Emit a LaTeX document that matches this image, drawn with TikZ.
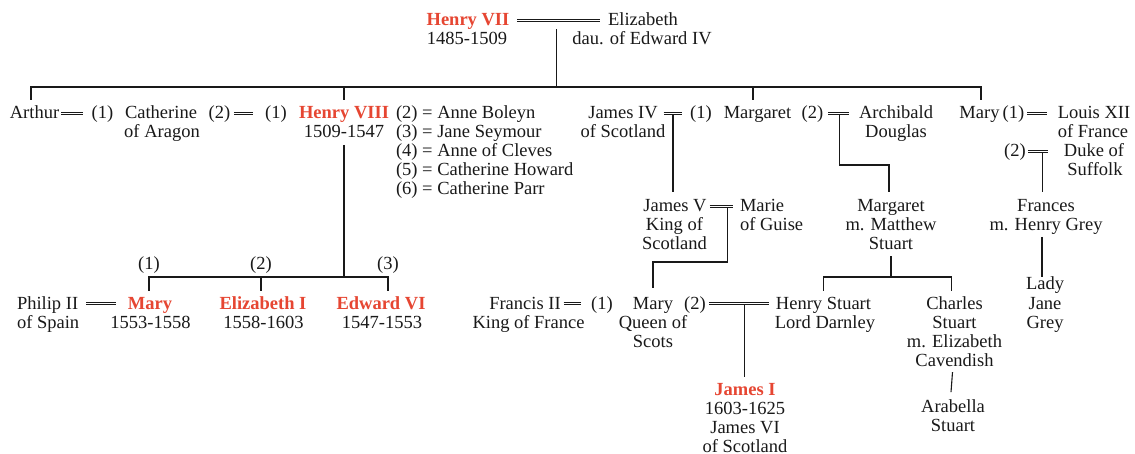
\documentclass[tikz,border=0pt]{standalone}
\usepackage{fontspec}
\setmainfont{Liberation Serif}
\definecolor{royalred}{RGB}{230,70,50}
\definecolor{ink}{RGB}{25,25,25}
\newcommand\kingname[1]{{\bfseries\color{royalred}#1}}
\begin{document}
\begin{tikzpicture}[x=1pt,y=-1pt,
  every node/.style={inner sep=0pt, outer sep=0pt, anchor=base, align=center,
    text=ink, font=\fontsize{18.5}{19}\selectfont},
  lft/.style={anchor=base west, align=left},
  ln/.style={draw=ink, line width=1.1pt},
  marr/.style={draw=ink, double=white, line width=1.1pt, double distance=1.5pt},
]
\fill[white] (0,0) rectangle (1135,454);
\useasboundingbox (0,0) rectangle (1135,454);

% helper levels
\coordinate (bar) at (0,87);
\coordinate (drop) at (0,100);
\coordinate (y165) at (0,165);
\coordinate (r3top) at (0,192);
\coordinate (y262) at (0,262);
\coordinate (kbar) at (0,277);
\coordinate (y288) at (0,288);
\coordinate (kdrop) at (0,291);
\coordinate (y377) at (0,377);

% (multi-line nodes are placed at the baseline of their LAST line)

% generation 1
\node (h7) at (468,26) {\kingname{Henry VII}};
\node (h7d) at (467,45) {1485-1509};
\node (eliz) at (643,26) {Elizabeth};
\node (elizd) at (642,45) {dau. of Edward IV};
\draw[marr] ([xshift=8pt,yshift=5.5pt]h7.base east) -- coordinate[pos=.475] (h7m) ([xshift=-8pt,yshift=5.5pt]eliz.base west);
\draw[ln] ([yshift=-9pt]h7m) -- (h7m |- bar);

% generation 2
\node (arthur) at (34.5,119) {Arthur};
\node (a1) at (102.5,119) {(1)};
\node (cath) at (161,119) {Catherine};
\node (cathd) at (162,138) {of Aragon};
\node (a2) at (219.5,119) {(2)};
\node (a3) at (276,119) {(1)};
\node (h8) at (344,119) {\kingname{Henry VIII}};
\node (h8d) at (344,138) {1509-1547};
\node[lft] (wives) at (396,195) {(2) = Anne Boleyn\\(3) = Jane Seymour\\(4) = Anne of Cleves\\(5) = Catherine Howard\\(6) = Catherine Parr};

\node (j4) at (623,119) {James IV};
\node (j4d) at (623,138) {of Scotland};
\node (b1) at (701,119) {(1)};
\node (marg) at (757.5,119) {Margaret};
\node (b2) at (812.5,119) {(2)};
\node (arch) at (896,119) {Archibald};
\node (archd) at (896,138) {Douglas};

\node (mt) at (979.5,119) {Mary};
\node (e1) at (1013.5,119) {(1)};
\node (louis) at (1094,119) {Louis XII};
\node (louisd) at (1093,138) {of France};
\node (e2) at (1015,157) {(2)};
\node (duke) at (1094,157) {Duke of};
\node (duked) at (1095,176) {Suffolk};

% children bar of Henry VII
\draw[ln] ([xshift=-3.5pt]arthur.base |- drop) |- ([xshift=1.5pt]mt.base |- bar) -- ([xshift=1.5pt]mt.base |- drop);
\draw[ln] (h8.base |- bar) -- (h8.base |- drop);
\draw[ln] ([xshift=-4.5pt]marg.base |- bar) -- ([xshift=-4.5pt]marg.base |- drop);

% marriages generation 2
\draw[marr] ([xshift=2pt,yshift=5.5pt]arthur.base east) -- ([xshift=-9pt,yshift=5.5pt]a1.base west);
\draw[marr] ([xshift=4pt,yshift=5.5pt]a2.base east) -- ([xshift=-12pt,yshift=5.5pt]a3.base west);
\draw[marr] ([xshift=6pt,yshift=5.5pt]j4.base east) -- coordinate (j4m) ([xshift=-8pt,yshift=5.5pt]b1.base west);
\draw[marr] ([xshift=5pt,yshift=5.5pt]b2.base east) -- coordinate[pos=.55] (bm) ([xshift=-10pt,yshift=5.5pt]arch.base west);
\draw[marr] ([xshift=3pt,yshift=5.5pt]e1.base east) -- ([xshift=-11pt,yshift=5.5pt]louis.base west);
\draw[marr] ([xshift=2pt,yshift=5.5pt]e2.base east) -- coordinate[pos=.75] (em) ([xshift=-16pt,yshift=5.5pt]duke.base west);

% Henry VIII's children
\node (c1) at (149,270) {(1)};
\node (c2) at (261,270) {(2)};
\node (c3) at (388,270) {(3)};
\draw[ln] ([yshift=-7pt]h8d.base) -- (h8d.base |- kbar);
\draw[ln] (c1.base |- kdrop) |- (c3.base |- kbar) -- (c3.base |- kdrop);
\draw[ln] (c2.base |- kbar) -- (c2.base |- kdrop);

\node[lft] (philip) at (17,309) {Philip II};
\node[lft] (philipd) at (17,328) {of Spain};
\node (mary1) at (150,309) {\kingname{Mary}};
\node (mary1d) at (150.5,328) {1553-1558};
\node (eliz1) at (263,309) {\kingname{Elizabeth I}};
\node (eliz1d) at (263.5,328) {1558-1603};
\node (edw6) at (381,309) {\kingname{Edward VI}};
\node (edw6d) at (382,328) {1547-1553};
\draw[marr] ([xshift=8pt,yshift=5.5pt]philip.base east) -- ([xshift=-12pt,yshift=5.5pt]mary1.base west);

% Scottish line
\node (j5) at (675,212) {James V};
\node (j5d) at (674.5,250) {King of\\Scotland};
\node[lft] (marie) at (740,212) {Marie};
\node[lft] (maried) at (740,231) {of Guise};
\draw[ln] ([yshift=-1.9pt]j4m) -- (j4m |- r3top);
\draw[marr] ([xshift=3pt,yshift=5.5pt]j5.base east) -- coordinate[pos=.75] (j5m) ([xshift=-7pt,yshift=5.5pt]marie.base west);

\node (marg2) at (891,212) {Margaret};
\node (marg2d) at (891,250) {m. Matthew\\Stuart};
\draw[ln] ([yshift=-1.9pt]bm) |- ([xshift=-2pt]marg2.base |- y165) -- ([xshift=-2pt]marg2.base |- r3top);

\node (fr) at (1046,212) {Frances};
\node (frd) at (1046,231) {m. Henry Grey};
\draw[ln] ([yshift=-1.9pt]em) -- (em |- r3top);
\node (lady) at (1045,290) {Lady};
\node (ladyd) at (1045,328) {Jane\\Grey};
\draw[ln] ([xshift=-4pt,yshift=-6pt]frd.base) -- ([xshift=-4pt]frd.base |- kbar);

\node (francis) at (525,309) {Francis II};
\node (francisd) at (528.5,328) {King of France};
\node (d1) at (602,309) {(1)};
\node (mqs) at (653,309) {Mary};
\node (mqsd) at (653,347) {Queen of\\Scots};
\node (d2) at (695,309) {(2)};
\node (hst) at (823.5,309) {Henry Stuart};
\node (hstd) at (825,328) {Lord Darnley};
\draw[ln] ([yshift=-1.9pt]j5m) |- (mqs.base |- y262) -- (mqs.base |- y288);
\draw[marr] ([xshift=3pt,yshift=5.5pt]francis.base east) -- ([xshift=-10pt,yshift=5.5pt]d1.base west);
\draw[marr] ([xshift=3pt,yshift=5.5pt]d2.base east) -- coordinate[pos=.6] (dm) ([xshift=-7pt,yshift=5.5pt]hst.base west);

\node (charles) at (954.5,309) {Charles};
\node (charlesd) at (954.5,366) {Stuart\\m. Elizabeth\\Cavendish};
\draw[ln] ([yshift=-6pt]marg2d.south) -- (marg2d.south |- kbar);
\draw[ln] (hst.base |- kdrop) |- ([xshift=-3pt]charles.base |- kbar) -- ([xshift=-3pt]charles.base |- kdrop);

\node (arab) at (953,412) {Arabella};
\node (arabd) at (953,431) {Stuart};
\draw[ln] ([xshift=-2pt,yshift=-6pt]charlesd.south) -- ([xshift=-2pt,yshift=7pt]arab.north);

\node (james1) at (745,395) {\kingname{James I}};
\node (james1d) at (745,452) {1603-1625\\James VI\\of Scotland};
\draw[ln] ([yshift=-1.9pt]dm) -- (dm |- y377);
\end{tikzpicture}
\end{document}
